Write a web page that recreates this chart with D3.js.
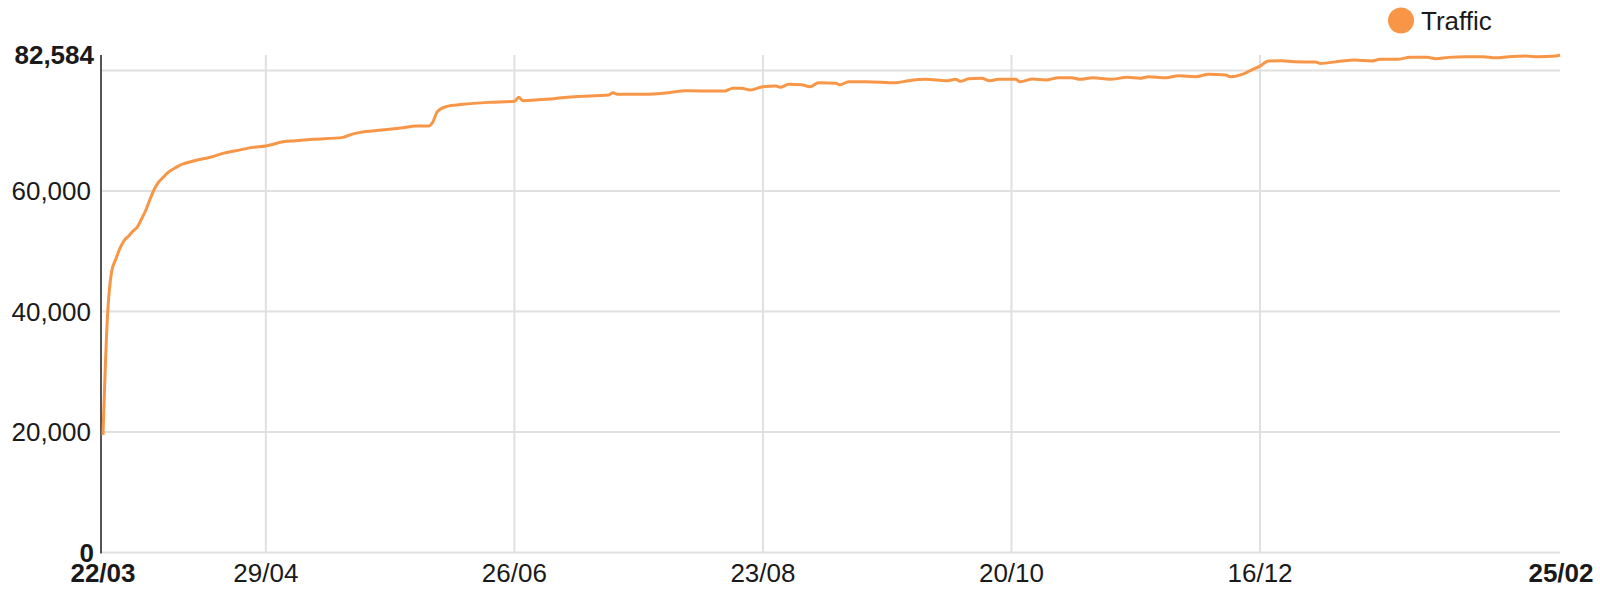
<!DOCTYPE html>
<html>
<head>
<meta charset="utf-8">
<script src="https://cdn.jsdelivr.net/npm/d3@7"></script>
<style>
  html, body { margin: 0; padding: 0; background: #fff; }
  svg { display: block; font-family: "Liberation Sans", Arial, sans-serif; }
</style>
</head>
<body>
<svg id="chart" width="1600" height="595"></svg>
<script>
// ---- data ----
const seriesName = "Traffic";
const dayIndex = [0,1,2,3,4,5,6,7,8,9,10,11,12,13,14,15,16,17,18,19,22,25,28,31,35,38,42,45,49,56,58,60,65,70,73,76,77,78,80,84,90,96,97,98,104,107,110,118,119,120,126,132,136,145,147,149,151,154,157,158,160,163,165,167,171,172,174,178,185,188,192,197,199,200,202,205,207,209,213,214,217,220,223,226,228,231,235,239,242,244,248,251,255,258,262,263,266,268,270,272,275,278,283,284,289,292,296,298,302,305,309,311,314,318,322,325,328,332,335,339,340];
const traffic = [19500,38600,46560,48720,50550,51870,52540,53370,54030,55360,56850,58680,60340,61500,62240,62990,63490,63900,64320,64570,65150,65600,66260,66690,67250,67470,68180,68350,68580,68910,69410,69740,70130,70510,70790,70790,71510,73170,74000,74390,74720,74890,75550,74990,75270,75490,75660,75940,76320,76050,76050,76320,76650,76600,77050,77050,76770,77320,77430,77210,77710,77650,77320,77980,77880,77650,78150,78150,77980,78310,78540,78310,78540,78210,78640,78710,78310,78540,78540,78150,78590,78430,78810,78810,78540,78810,78540,78870,78710,78980,78810,79140,78980,79370,79260,78980,79420,80090,80750,81580,81630,81470,81410,81190,81580,81740,81580,81860,81860,82190,82190,81960,82190,82300,82300,82130,82300,82410,82300,82410,82584];
const xTickIndex = [0, 38, 96, 154, 212, 270, 340];
const xTickLabels = ["22/03","29/04","26/06","23/08","20/10","16/12","25/02"];
const yGridValues = [0, 20000, 40000, 60000, 80000];
const yLabelValues = [0, 20000, 40000, 60000, 82584];
const yMax = 82584;

// ---- layout ----
const svg = d3.select("#chart");
const x = d3.scaleLinear().domain([0, 340]).range([103, 1560]);
const y = d3.scaleLinear().domain([0, yMax]).range([552.5, 55]);
const fmt = d3.format(",");
const lineColor = "#f79646";
const textColor = "#1a1a1a";

// horizontal gridlines
svg.append("g").selectAll("line").data(yGridValues).join("line")
  .attr("x1", 102).attr("x2", 1560)
  .attr("y1", d => y(d)).attr("y2", d => y(d))
  .attr("stroke", "#e0e0e0").attr("stroke-width", 2);

// vertical gridlines (interior ticks)
svg.append("g").selectAll("line").data(xTickIndex.slice(1, -1)).join("line")
  .attr("x1", d => x(d)).attr("x2", d => x(d))
  .attr("y1", y(yMax)).attr("y2", y(0))
  .attr("stroke", "#e0e0e0").attr("stroke-width", 2);

// y axis line
svg.append("line")
  .attr("x1", 101).attr("x2", 101)
  .attr("y1", y(yMax)).attr("y2", y(0) + 1)
  .attr("stroke", "#555").attr("stroke-width", 2);

// y labels
svg.append("g").selectAll("text").data(yLabelValues).join("text")
  .attr("x", (d, i) => (i === 0 || i === yLabelValues.length - 1) ? 94 : 91)
  .attr("y", d => y(d))
  .attr("dy", "0.35em")
  .attr("text-anchor", "end")
  .attr("font-size", 26)
  .attr("font-weight", (d, i) => (i === 0 || i === yLabelValues.length - 1) ? "bold" : "normal")
  .attr("fill", textColor)
  .text(d => fmt(d));

// x labels
svg.append("g").selectAll("text").data(xTickIndex).join("text")
  .attr("x", (d, i) => i === xTickIndex.length - 1 ? x(d) + 1 : x(d))
  .attr("y", 573)
  .attr("dy", "0.35em")
  .attr("text-anchor", "middle")
  .attr("font-size", 26)
  .attr("font-weight", (d, i) => (i === 0 || i === xTickIndex.length - 1) ? "bold" : "normal")
  .attr("fill", textColor)
  .text((d, i) => xTickLabels[i]);

// line
const pts = dayIndex.map((d, i) => [d, traffic[i]]);
svg.append("path")
  .datum(pts)
  .attr("fill", "none")
  .attr("stroke", lineColor)
  .attr("stroke-width", 3)
  .attr("stroke-linejoin", "round")
  .attr("d", d3.line().x(d => x(d[0])).y(d => y(d[1])).curve(d3.curveMonotoneX));

// legend
const lg = svg.append("g");
lg.append("circle").attr("cx", 1401).attr("cy", 20.5).attr("r", 13).attr("fill", lineColor);
lg.append("text").attr("x", 1421).attr("y", 20.5).attr("dy", "0.35em")
  .attr("font-size", 26).attr("fill", textColor).text(seriesName);
</script>
</body>
</html>
